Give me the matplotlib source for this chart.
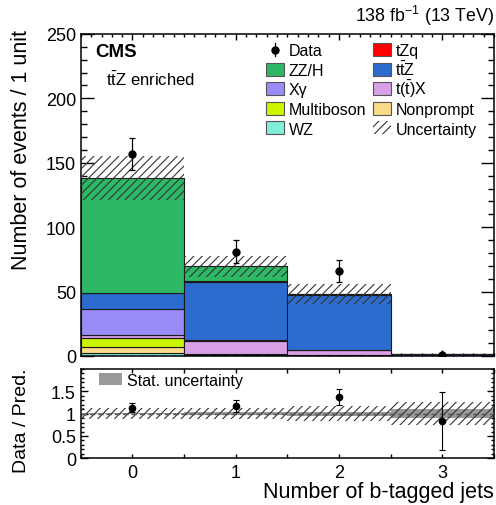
import numpy as np
import matplotlib
matplotlib.use('Agg')
import matplotlib.pyplot as plt
from matplotlib.patches import Patch, Rectangle
from matplotlib.ticker import MultipleLocator

plt.rcParams['font.family'] = ['Liberation Sans', 'DejaVu Sans']
plt.rcParams['mathtext.fontset'] = 'custom'
plt.rcParams['mathtext.rm'] = 'Liberation Sans'
plt.rcParams['mathtext.it'] = 'Liberation Sans:italic'
plt.rcParams['hatch.linewidth'] = 0.8

# b-jet multiplicity bins
nb = [0, 1, 2, 3]
data = [157, 81, 66, 1]
data_err = [12.5, 9.0, 8.5, 0.78]

# expected yields, stacked bottom to top
wz = [2.3, 0.3, 0.2, 0.0]
nonprompt = [4.7, 0.8, 0.3, 0.02]
multiboson = [7.0, 0.7, 0.2, 0.02]
ttx = [2.6, 9.5, 3.8, 0.1]
xgamma = [19.5, 1.2, 0.5, 0.02]
ttz = [12.5, 45.0, 42.5, 1.0]
tzq = [0.3, 0.5, 0.3, 0.02]
zzh = [89.2, 11.5, 0.2, 0.02]

tot_unc = [17.0, 8.5, 8.0, 0.3]
stat_unc = [2.0, 2.0, 2.0, 0.12]

stack = [
    (wz, '#7fefd8', 'WZ'),
    (nonprompt, '#fadb87', 'Nonprompt'),
    (multiboson, '#ccf500', 'Multiboson'),
    (ttx, '#d8a0e6', r'$\mathrm{t(\bar{t})X}$'),
    (xgamma, '#9a8cf7', 'Xγ'),
    (ttz, '#2d6ccf', r'$\mathrm{t\bar{t}Z}$'),
    (tzq, '#ff0000', 'tZq'),
    (zzh, '#2db866', 'ZZ/H'),
]
colors = {lab: col for _, col, lab in stack}

x = np.array(nb)
pred = np.zeros(len(nb))

fig = plt.figure(figsize=(4.96, 5.06), dpi=100)
ax = fig.add_axes([0.163, 0.2945, 0.833, 0.6364])
rax = fig.add_axes([0.163, 0.0923, 0.833, 0.1765])

for vals, col, lab in stack:
    ax.bar(x, vals, width=1.0, bottom=pred, color=col, edgecolor='#1a1a1a',
           linewidth=0.8, zorder=2)
    pred = pred + np.array(vals)

unc = np.array(tot_unc)
ax.bar(x, 2 * unc, width=1.0, bottom=pred - unc, color='none',
       edgecolor='#333333', hatch='////', linewidth=0, zorder=3)

ax.errorbar(x, data, yerr=data_err, fmt='o', color='black', ms=5,
            elinewidth=0.9, capsize=2, capthick=0.9, zorder=5)

ax.set_xlim(-0.5, 3.5)
ax.set_ylim(0, 250)
ax.yaxis.set_major_locator(MultipleLocator(50))
ax.yaxis.set_minor_locator(MultipleLocator(10))
ax.xaxis.set_major_locator(MultipleLocator(1))
ax.xaxis.set_minor_locator(MultipleLocator(0.1))
ax.tick_params(axis='both', which='both', direction='in', top=True, right=True,
               labelsize=13, width=1)
ax.tick_params(axis='y', which='major', length=9.4)
ax.tick_params(axis='y', which='minor', length=4.5)
ax.tick_params(axis='x', which='major', length=4)
ax.tick_params(axis='x', which='minor', length=2)
ax.tick_params(axis='x', labelbottom=False)
for s in ax.spines.values():
    s.set_linewidth(1.1)

ax.text(0.036, 0.947, 'CMS', transform=ax.transAxes, fontsize=13.5,
        fontweight='bold', va='center', ha='left')
ax.text(0.06, 0.86, r'$\mathrm{t\bar{t}Z}$ enriched', transform=ax.transAxes,
        fontsize=12, va='center', ha='left')

# legend drawn entry by entry so the rows stay on a fixed grid
columns = [['Data', 'ZZ/H', 'Xγ', 'Multiboson', 'WZ'],
           ['tZq', r'$\mathrm{t\bar{t}Z}$', r'$\mathrm{t(\bar{t})X}$',
            'Nonprompt', 'Uncertainty']]
col_x = [0.448, 0.707]
row0, pitch = 0.951, 0.0606
box_w, box_h = 0.0436, 0.0404
for ci, entries in enumerate(columns):
    for ri, lab in enumerate(entries):
        cx0 = col_x[ci]
        cy = row0 - ri * pitch
        if lab == 'Data':
            xm = cx0 + box_w / 2
            ax.plot([xm, xm], [cy - box_h / 2, cy + box_h / 2], color='black',
                    lw=0.9, transform=ax.transAxes, zorder=6)
            ax.plot(xm, cy, 'o', color='black', ms=5, transform=ax.transAxes,
                    zorder=6)
        elif lab == 'Uncertainty':
            ax.add_patch(Rectangle((cx0, cy - box_h / 2), box_w, box_h,
                                   transform=ax.transAxes, facecolor='none',
                                   edgecolor='#333333', hatch='////',
                                   linewidth=0, zorder=6))
        else:
            ax.add_patch(Rectangle((cx0, cy - box_h / 2), box_w, box_h,
                                   transform=ax.transAxes, facecolor=colors[lab],
                                   edgecolor='#555555', linewidth=0.8, zorder=6))
        ax.text(cx0 + 0.0545, cy - 0.0177, lab, transform=ax.transAxes,
                fontsize=11.5, ha='left', va='baseline', zorder=6)

# ratio panel
ratio = np.array(data) / pred
ratio_err = np.array(data_err) / pred
rel_tot = unc / pred
rel_stat = np.array(stat_unc) / pred

rax.bar(x, 2 * rel_stat, width=1.0, bottom=1 - rel_stat, color='#999999',
        linewidth=0, zorder=2)
rax.bar(x, 2 * rel_tot, width=1.0, bottom=1 - rel_tot, color='none',
        edgecolor='#333333', hatch='////', linewidth=0, zorder=3)
rax.axhline(1, color='#555555', lw=1.0, ls=(0, (4, 2)), zorder=3)
rax.errorbar(x, ratio, yerr=ratio_err, fmt='o', color='black', ms=4.5,
             elinewidth=0.8, capsize=2, capthick=0.8, zorder=5)

rax.set_xlim(-0.5, 3.5)
rax.set_ylim(0, 2.0)
rax.set_yticks([0, 0.5, 1, 1.5])
rax.set_yticklabels(['0', '0.5', '1', '1.5'])
rax.yaxis.set_minor_locator(MultipleLocator(0.1))
rax.xaxis.set_major_locator(MultipleLocator(1))
rax.xaxis.set_minor_locator(MultipleLocator(0.5))
rax.tick_params(axis='both', which='both', direction='in', top=True, right=True,
                labelsize=13, width=1)
rax.tick_params(axis='y', which='major', length=5)
rax.tick_params(axis='y', which='minor', length=2.5)
rax.tick_params(axis='x', which='major', length=3, pad=4)
rax.tick_params(axis='x', which='minor', length=3)
for s in rax.spines.values():
    s.set_linewidth(1.1)

rax.legend([Patch(facecolor='#999999', linewidth=0)], ['Stat. uncertainty'],
           loc='upper left', bbox_to_anchor=(0.045, 0.96), frameon=False,
           fontsize=11.5, handlelength=1.4, handleheight=0.75, handletextpad=0.3,
           borderpad=0, borderaxespad=0)

fig.text(0.996, 1 - 16 / 506, r'138 fb$^{-1}$ (13 TeV)', ha='right', va='center',
         fontsize=12.8)
fig.text(22 / 496, 1 - 30 / 506, 'Number of events / 1 unit', rotation=90,
         ha='center', va='top', fontsize=15.5)
fig.text(22 / 496, 1 - 421 / 506, 'Data / Pred.', rotation=90,
         ha='center', va='center', fontsize=14)
fig.text(0.996, 1 - 493 / 506, 'Number of b-tagged jets', ha='right',
         va='center', fontsize=15.5)

fig.savefig('out.png', dpi=100)
